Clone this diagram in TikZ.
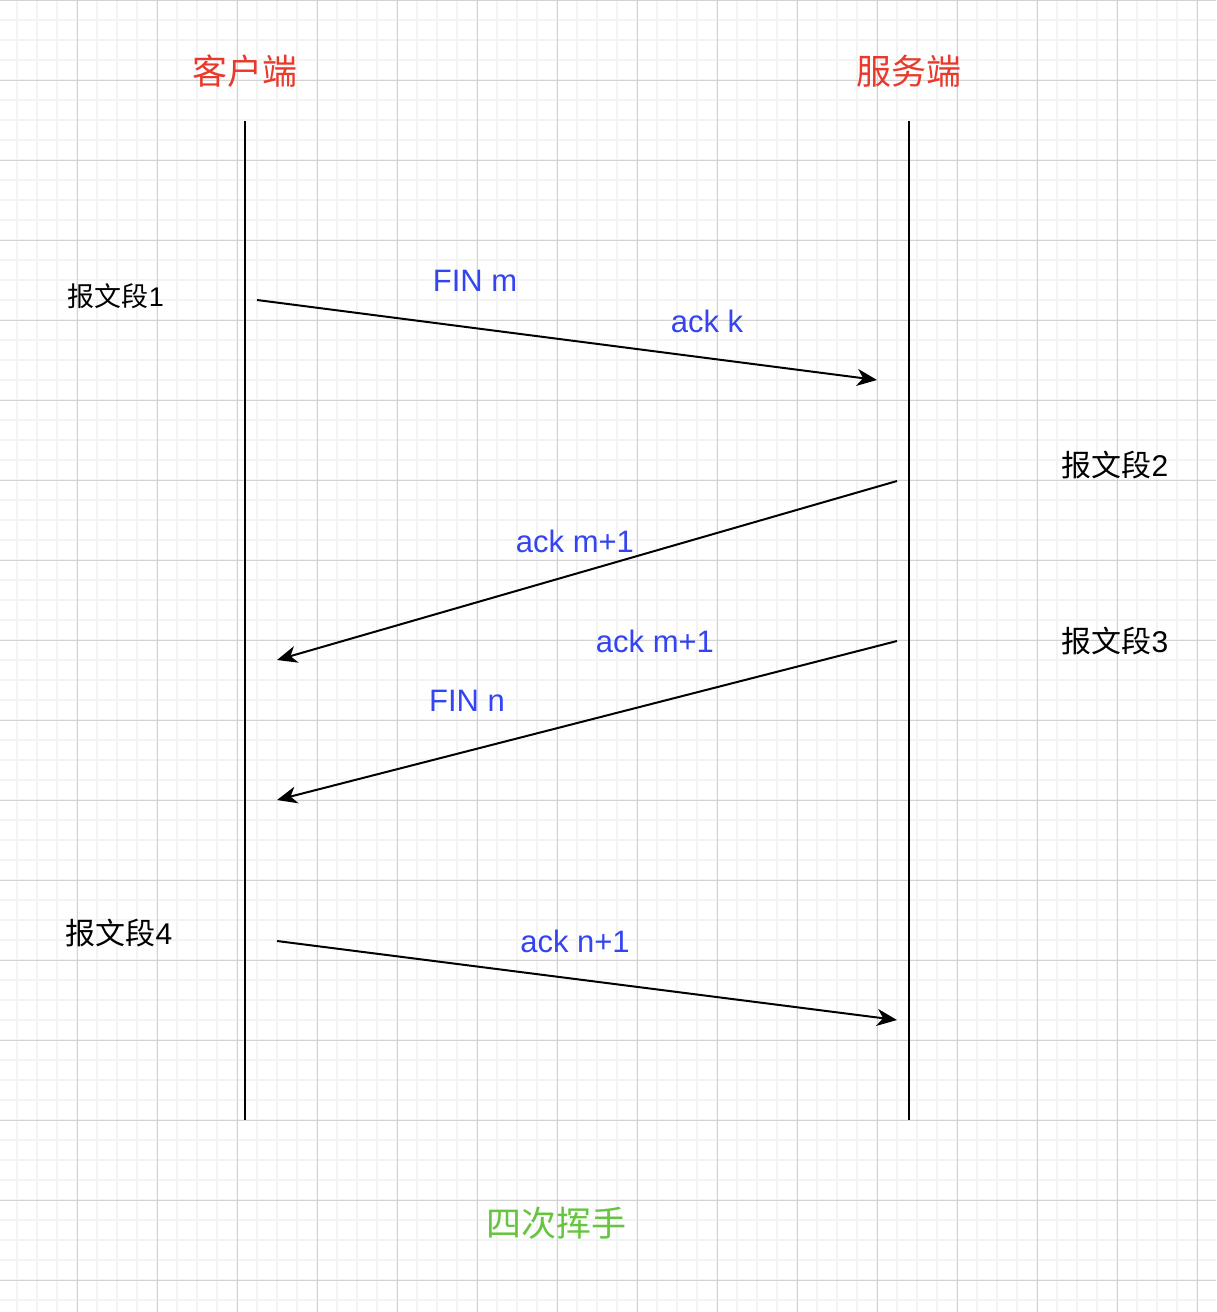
\documentclass[tikz,border=0pt]{standalone}
\usepackage{fontspec}
\setmainfont{Liberation Sans}
\newfontfamily\cjk{Noto Sans CJK SC}
\usetikzlibrary{arrows.meta,positioning}

\definecolor{gridminor}{HTML}{F3F3F3}
\definecolor{gridmajor}{HTML}{D3D3D3}
\definecolor{endred}{HTML}{E8392B}
\definecolor{msgblue}{HTML}{3344F0}
\definecolor{titlegreen}{HTML}{66C43F}

\tikzset{
	side/.style={text=endred, font=\fontsize{35}{40}\selectfont\cjk},
	seg/.style={text=black, font=\fontsize{30}{36}\selectfont},
	msg/.style={text=msgblue, font=\fontsize{31}{36}\selectfont},
	life/.style={line width=2pt, black},
	pkt/.style={line width=2pt, black, -{Stealth[length=20pt,width=17pt,inset=6pt]}}
}

\begin{document}
\begin{tikzpicture}[x=1pt, y=-1pt]
	
	\useasboundingbox[fill=white] (0,0) rectangle (1216,1312);
	% grid
	\foreach \gx in {17,37,...,1216} \draw[gridminor, line width=1.6pt] (\gx,0) -- (\gx,1312);
	\foreach \gy in {20,40,...,1312} \draw[gridminor, line width=1.6pt] (0,\gy) -- (1216,\gy);
	\foreach \gx in {77,157,...,1216} \draw[gridmajor, line width=1pt] (\gx,0) -- (\gx,1312);
	\foreach \gy in {0,80,...,1312} \draw[gridmajor, line width=1pt] (0,\gy) -- (1216,\gy);
	
	% lifelines
	\coordinate (cTop) at (245,121);
	\coordinate (cBot) at (245,1120);
	\coordinate (sTop) at (909,121);
	\coordinate (sBot) at (909,1120);
	\node[side, above=30pt of cTop](client){客户端};
	\node[side, above=30pt of sTop](server){服务端};
	\draw[life] (cTop) -- (cBot);
	\draw[life] (sTop) -- (sBot);
	
	% segments
	\coordinate (a1) at (257,300);
	\coordinate (b1) at (877,380);
	\coordinate (a2) at (897,481);
	\coordinate (b2) at (277,660);
	\coordinate (a3) at (897,641);
	\coordinate (b3) at (277,800);
	\coordinate (a4) at (277,941);
	\coordinate (b4) at (897,1020);
	\draw[pkt] (a1) -- (b1);
	\draw[pkt] (a2) -- (b2);
	\draw[pkt] (a3) -- (b3);
	\draw[pkt] (a4) -- (b4);
	
	\node[seg, font=\fontsize{27}{32}\selectfont](seg1) at (116,296){{\cjk 报文段}1};
	\node[seg](seg2) at (1115,465){{\cjk 报文段}2};
	\node[seg](seg3) at (1115,641){{\cjk 报文段}3};
	\node[seg](seg4) at (119,933){{\cjk 报文段}4};
	
	\node[msg](finm) at (475,281){FIN m};
	\node[msg](ackk) at (707,321){ack k};
	\node[msg](ackm1) at (575,541){ack m+1};
	\node[msg](ackm2) at (655,641){ack m+1};
	\node[msg](finn) at (467,701){FIN n};
	\node[msg](ackn) at (575,941){ack n+1};
	
	\node[side, text=titlegreen](title) at (556,1223){四次挥手};
	
\end{tikzpicture}
\end{document}
